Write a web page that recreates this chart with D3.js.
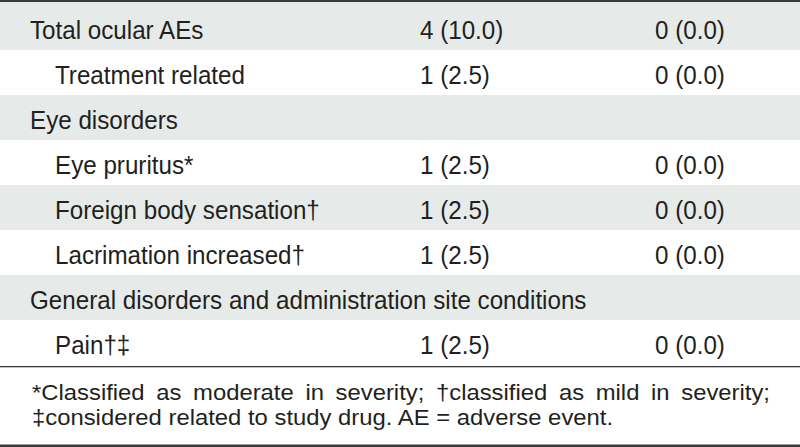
<!DOCTYPE html>
<html>
<head>
<meta charset="utf-8">
<script src="https://cdn.jsdelivr.net/npm/d3@7"></script>
<style>
  html, body { margin: 0; padding: 0; background: #fff; }
  svg { display: block; }
  text { font-family: "Liberation Sans", Arial, sans-serif; fill: #231f20; }
</style>
</head>
<body>
<svg id="chart" width="800" height="447"></svg>
<script>
// ---- data ----
const rowLabels = [
  "Total ocular AEs",
  "Treatment related",
  "Eye disorders",
  "Eye pruritus*",
  "Foreign body sensation†",
  "Lacrimation increased†",
  "General disorders and administration site conditions",
  "Pain†‡"
];
const rowIndent = [0, 1, 0, 1, 1, 1, 0, 1];
const groupAValues = ["4 (10.0)", "1 (2.5)", "", "1 (2.5)", "1 (2.5)", "1 (2.5)", "", "1 (2.5)"];
const groupBValues = ["0 (0.0)", "0 (0.0)", "", "0 (0.0)", "0 (0.0)", "0 (0.0)", "", "0 (0.0)"];
const footnoteLines = [
  "*Classified as moderate in severity; †classified as mild in severity;",
  "‡considered related to study drug. AE = adverse event."
];

// ---- layout ----
const W = 800, H = 447;
const svg = d3.select("#chart");
const bodyFont = 26.5, bodySx = 0.913;
const noteFont = 22.5, noteSx = 1.06;

const y = d3.scaleBand().domain(d3.range(rowLabels.length)).range([5, 365]).paddingInner(0).paddingOuter(0);
const col = d3.scaleOrdinal().domain(["label", "a", "b"]).range([30, 420, 655]);
const indentX = d3.scaleLinear().domain([0, 1]).range([0, 25]);

// row backgrounds
svg.selectAll("rect.row").data(rowLabels).join("rect")
  .attr("class", "row")
  .attr("x", 0)
  .attr("y", (d, i) => i === 0 ? 2 : y(i))
  .attr("width", W)
  .attr("height", (d, i) => i === 0 ? y.bandwidth() + 3 : y.bandwidth())
  .attr("fill", (d, i) => i % 2 === 0 ? "#e6ebe9" : "#ffffff");

function addText(g, str, x, yy, size, sx) {
  return g.append("text")
    .attr("transform", `translate(${x},${yy}) scale(${sx},1)`)
    .style("font-size", size + "px")
    .text(str);
}

const body = svg.append("g");
rowLabels.forEach((lab, i) => {
  const base = y(i) + 33.5;
  addText(body, lab, col("label") + indentX(rowIndent[i]), base, bodyFont, bodySx);
  if (groupAValues[i]) addText(body, groupAValues[i], col("a"), base, bodyFont, bodySx);
  if (groupBValues[i]) addText(body, groupBValues[i], col("b"), base, bodyFont, bodySx);
});

// rules
svg.append("rect").attr("x", 0).attr("y", 0).attr("width", W).attr("height", 2).attr("fill", "#3a3a3a");
svg.append("rect").attr("x", 0).attr("y", 366).attr("width", W).attr("height", 1.3).attr("fill", "#3a3a3a");
svg.append("rect").attr("x", 0).attr("y", 444.5).attr("width", W).attr("height", 2.5).attr("fill", "#3a3a3a");

// footnote: first line justified, second left aligned
const note = svg.append("g");
const noteLeft = 32, noteRight = 770;
const noteBase = [400, 425];
footnoteLines.forEach((line, li) => {
  if (li === footnoteLines.length - 1) {
    addText(note, line, noteLeft, noteBase[li], noteFont, noteSx);
    return;
  }
  const words = line.split(" ");
  const nodes = words.map(w => addText(note, w, 0, noteBase[li], noteFont, noteSx));
  const widths = nodes.map(n => n.node().getComputedTextLength() * noteSx);
  const total = d3.sum(widths);
  const gap = (noteRight - noteLeft - total) / (words.length - 1);
  let x = noteLeft;
  nodes.forEach((n, k) => {
    n.attr("transform", `translate(${x},${noteBase[li]}) scale(${noteSx},1)`);
    x += widths[k] + gap;
  });
});
</script>
</body>
</html>
